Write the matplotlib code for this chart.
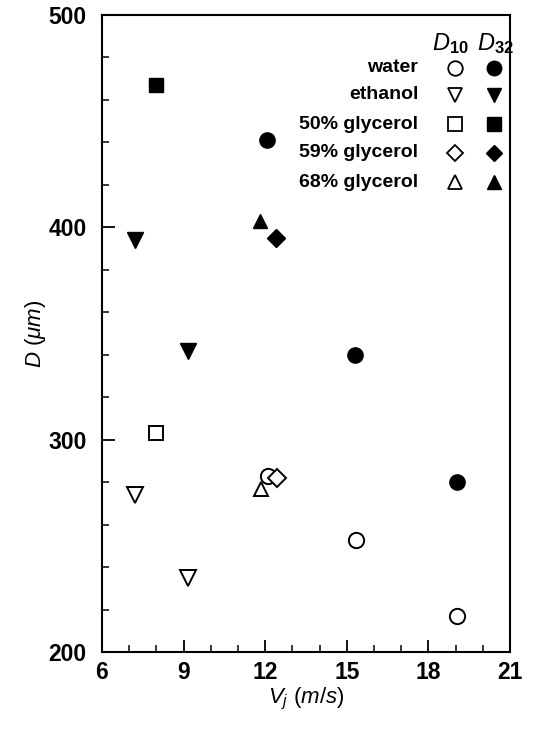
import matplotlib
matplotlib.use("Agg")
import matplotlib.pyplot as plt
from matplotlib.ticker import MultipleLocator

plt.rcParams['font.family'] = ['Liberation Sans', 'DejaVu Sans']
plt.rcParams['mathtext.fontset'] = 'custom'
plt.rcParams['mathtext.it'] = 'Liberation Sans:italic'
plt.rcParams['mathtext.rm'] = 'Liberation Sans'
plt.rcParams['mathtext.bf'] = 'Liberation Sans:bold'

# data: jet velocity (m/s) and drop diameter (um)
fluids = ['water', 'ethanol', '50% glycerol', '59% glycerol', '68% glycerol']
markers = ['o', 'v', 's', 'D', '^']
sizes = [11, 11, 10, 9, 10]

v_d10 = [[12.1, 15.35, 19.05], [7.2, 9.15], [8.0], [12.45], [11.85]]
d10 = [[283, 253, 217], [274, 235], [303], [282], [277]]

v_d32 = [[12.05, 15.3, 19.05], [7.2, 9.15], [8.0], [12.4], [11.8]]
d32 = [[441, 340, 280], [394, 342], [467], [395], [403]]

fig = plt.figure(figsize=(5.34, 7.42), dpi=100)
ax = fig.add_axes([0.191, 0.121, 0.764, 0.859])

for i in range(len(fluids)):
    ax.plot(v_d10[i], d10[i], linestyle='none', marker=markers[i], ms=sizes[i],
            mfc='white', mec='black', mew=1.4, clip_on=False)
    ax.plot(v_d32[i], d32[i], linestyle='none', marker=markers[i], ms=sizes[i],
            mfc='black', mec='black', mew=1.0, clip_on=False)

ax.set_xlim(6, 21)
ax.set_ylim(200, 500)
ax.xaxis.set_major_locator(MultipleLocator(3))
ax.xaxis.set_minor_locator(MultipleLocator(1))
ax.yaxis.set_major_locator(MultipleLocator(100))
ax.yaxis.set_minor_locator(MultipleLocator(20))
ax.tick_params(which='both', direction='in', top=False, right=False, width=1.3)
ax.tick_params(which='major', length=9, labelsize=16.5)
ax.tick_params(axis='x', which='major', pad=6)
ax.tick_params(axis='y', which='major', pad=11)
ax.tick_params(which='minor', length=5, width=1.1)
for lab in ax.get_xticklabels() + ax.get_yticklabels():
    lab.set_fontweight('bold')
for sp in ax.spines.values():
    sp.set_linewidth(1.5)

ax.set_xlabel('$V_j$ ($m/s$)', fontsize=16, labelpad=2)
ax.set_ylabel('$D$ ($\\mu m$)', fontsize=16, labelpad=0)

# hand-made legend in axes fraction
ax.text(0.855, 0.955, '$D_{\\mathbf{10}}$', transform=ax.transAxes, fontsize=17,
        ha='center', va='center')
ax.text(0.965, 0.955, '$D_{\\mathbf{32}}$', transform=ax.transAxes, fontsize=17,
        ha='center', va='center')
rows = [0.917, 0.875, 0.828, 0.784, 0.737]
for i in range(len(fluids)):
    ax.text(0.775, rows[i], fluids[i], transform=ax.transAxes, fontsize=14,
            ha='right', va='center', fontweight='bold')
    ax.plot([0.865], [rows[i]], transform=ax.transAxes, marker=markers[i],
            ms=sizes[i] * 0.95, mfc='white', mec='black', mew=1.3)
    ax.plot([0.96], [rows[i]], transform=ax.transAxes, marker=markers[i],
            ms=sizes[i] * 0.95, mfc='black', mec='black')

fig.savefig('out.png', dpi=100)
